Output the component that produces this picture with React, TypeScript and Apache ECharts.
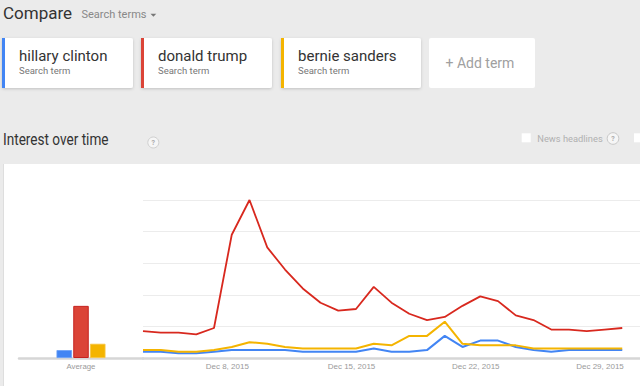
import React, { useEffect, useRef } from "react";
import * as echarts from "echarts";

const categories = [
  "Dec 3, 2015", "Dec 4, 2015", "Dec 5, 2015", "Dec 6, 2015", "Dec 7, 2015",
  "Dec 8, 2015", "Dec 9, 2015", "Dec 10, 2015", "Dec 11, 2015", "Dec 12, 2015",
  "Dec 13, 2015", "Dec 14, 2015", "Dec 15, 2015", "Dec 16, 2015", "Dec 17, 2015",
  "Dec 18, 2015", "Dec 19, 2015", "Dec 20, 2015", "Dec 21, 2015", "Dec 22, 2015",
  "Dec 23, 2015", "Dec 24, 2015", "Dec 25, 2015", "Dec 26, 2015", "Dec 27, 2015",
  "Dec 28, 2015", "Dec 29, 2015", "Dec 30, 2015",
];
const tickLabels = ["Dec 8, 2015", "Dec 15, 2015", "Dec 22, 2015", "Dec 29, 2015"];

const clintonValues = [4, 4, 3, 3, 4, 5, 5, 5, 5, 4, 4, 4, 4, 6, 4, 4, 5, 14, 7, 11, 11, 7, 5, 4, 5, 5, 5, 5];
const trumpValues = [17, 16, 16, 15, 19, 78, 100, 70, 56, 44, 35, 30, 31, 45, 35, 28, 24, 26, 33, 39, 36, 27, 24, 18, 18, 17, 18, 19];
const sandersValues = [5, 5, 4, 4, 5, 7, 10, 9, 7, 6, 6, 6, 6, 9, 8, 14, 14, 23, 9, 8, 8, 8, 6, 6, 6, 6, 6, 6];

const averageCategory = ["Average"];
const clintonAverage = [5];
const trumpAverage = [33];
const sandersAverage = [9];

const terms = ["hillary clinton", "donald trump", "bernie sanders"];

const BLUE = "#4285f4";
const RED = "#db4437";
const YELLOW = "#f4b400";
const GRAY_BG = "#ebebeb";

export default function App() {
  const ref = useRef<HTMLDivElement>(null);

  useEffect(() => {
    if (!ref.current) return;
    const chart = echarts.init(ref.current, undefined, { renderer: "svg" });

    const cardDefs = [
      { x: 2, w: 131, color: BLUE, label: terms[0] },
      { x: 141, w: 131, color: RED, label: terms[1] },
      { x: 281, w: 140, color: YELLOW, label: terms[2] },
    ];

    const cards: any[] = [];
    cardDefs.forEach((c) => {
      cards.push({
        type: "rect",
        shape: { x: c.x, y: 38, width: c.w, height: 50, r: 2 },
        style: { fill: "#fff", shadowBlur: 3, shadowOffsetY: 1, shadowColor: "rgba(0,0,0,0.18)" },
      });
      cards.push({
        type: "rect",
        shape: { x: c.x, y: 38, width: 3, height: 50 },
        style: { fill: c.color },
      });
      cards.push({
        type: "text",
        x: c.x + 17,
        y: 56,
        style: { text: c.label, fill: "#333", font: "15px Roboto", verticalAlign: "middle" },
      });
      cards.push({
        type: "text",
        x: c.x + 17,
        y: 70.7,
        style: { text: "Search term", fill: "#777", font: "9.5px Roboto", verticalAlign: "middle" },
      });
    });

    const option: any = {
      animation: false,
      backgroundColor: "#fff",
      graphic: [
        { type: "rect", z: -10, shape: { x: 0, y: 0, width: 640, height: 164 }, style: { fill: GRAY_BG } },
        { type: "rect", z: -10, shape: { x: 0, y: 164, width: 3, height: 230 }, style: { fill: GRAY_BG } },
        { type: "line", z: -9, shape: { x1: 3.5, y1: 164, x2: 3.5, y2: 386 }, style: { stroke: "#dedede", lineWidth: 1 } },
        { type: "text", x: 3, y: 13.4, style: { text: "Compare", fill: "#333", font: "17px Roboto", verticalAlign: "middle" } },
        { type: "text", x: 81.5, y: 14.5, style: { text: "Search terms", fill: "#888", font: "11px Roboto", verticalAlign: "middle" } },
        { type: "polygon", shape: { points: [[150.5, 13.8], [156.3, 13.8], [153.4, 16.8]] }, style: { fill: "#777" } },
        ...cards,
        {
          type: "rect",
          shape: { x: 429, y: 38, width: 106, height: 50, r: 2 },
          style: { fill: "#fff" },
        },
        { type: "text", x: 445.5, y: 63.3, style: { text: "+ Add term", fill: "#a0a0a0", font: "14px Roboto", verticalAlign: "middle" } },
        { type: "text", x: 3, y: 139.8, scaleX: 0.8, style: { text: "Interest over time", fill: "#333", font: "17px Roboto", verticalAlign: "middle" } },
        { type: "circle", shape: { cx: 153.3, cy: 142.5, r: 5.5 }, style: { fill: "#f6f6f6", stroke: "#cfcfcf", lineWidth: 1 } },
        { type: "text", x: 153.3, y: 142.8, style: { text: "?", fill: "#aaa", font: "bold 7px Roboto", align: "center", verticalAlign: "middle" } },
        { type: "rect", shape: { x: 521.7, y: 133.3, width: 9, height: 9 }, style: { fill: "#fff" } },
        { type: "text", x: 537.3, y: 138.3, style: { text: "News headlines", fill: "#b0b0b0", font: "9.3px Roboto", verticalAlign: "middle" } },
        { type: "circle", shape: { cx: 613, cy: 138.5, r: 5.8 }, style: { fill: "#f6f6f6", stroke: "#c8c8c8", lineWidth: 1 } },
        { type: "text", x: 613, y: 138.8, style: { text: "?", fill: "#aaa", font: "bold 7px Roboto", align: "center", verticalAlign: "middle" } },
        { type: "rect", shape: { x: 634, y: 133.3, width: 9, height: 9 }, style: { fill: "#fff" } },
      ],
      grid: [
        { left: 19, width: 124, top: 200, bottom: 28 },
        { left: 143, right: -4, top: 200, bottom: 28 },
      ],
      xAxis: [
        {
          type: "category",
          gridIndex: 0,
          data: averageCategory,
          axisLine: { lineStyle: { color: "#d6d6d6", width: 2.5 } },
          axisTick: { show: false },
          axisLabel: { color: "#9a9a9a", fontSize: 7.8, fontFamily: "Liberation Sans", margin: 4 },
        },
        {
          type: "category",
          gridIndex: 1,
          data: categories,
          boundaryGap: false,
          max: categories.length,
          axisLine: { lineStyle: { color: "#d6d6d6", width: 2.5 } },
          axisTick: { show: false },
          splitLine: { show: false },
          axisLabel: {
            color: "#9a9a9a",
            fontSize: 8,
            fontFamily: "Liberation Sans",
            margin: 4,
            padding: [0, 9, 0, 0],
            interval: (idx: number) => tickLabels.includes(categories[idx]),
          },
        },
      ],
      yAxis: [
        {
          type: "value",
          gridIndex: 0,
          min: 0,
          max: 100,
          interval: 20,
          axisLine: { show: false },
          axisTick: { show: false },
          axisLabel: { show: false },
          splitLine: { show: false },
        },
        {
          type: "value",
          gridIndex: 1,
          min: 0,
          max: 100,
          interval: 20,
          axisLine: { show: false },
          axisTick: { show: false },
          axisLabel: { show: false },
          splitLine: { lineStyle: { color: "#ececec", width: 1 } },
        },
      ],
      series: [
        {
          name: terms[0],
          type: "bar",
          xAxisIndex: 0,
          yAxisIndex: 0,
          data: clintonAverage,
          barWidth: 15.5,
          barGap: "8%",
          itemStyle: { color: BLUE, borderColor: "#6aa0f7", borderWidth: 0.8 },
        },
        {
          name: terms[1],
          type: "bar",
          xAxisIndex: 0,
          yAxisIndex: 0,
          data: trumpAverage,
          barWidth: 15.5,
          barGap: "8%",
          itemStyle: { color: RED, borderColor: "#c5221f", borderWidth: 1 },
        },
        {
          name: terms[2],
          type: "bar",
          xAxisIndex: 0,
          yAxisIndex: 0,
          data: sandersAverage,
          barWidth: 15.5,
          barGap: "8%",
          itemStyle: { color: YELLOW, borderColor: "#f7c544", borderWidth: 0.8 },
        },
        {
          name: terms[0],
          type: "line",
          xAxisIndex: 1,
          yAxisIndex: 1,
          data: clintonValues,
          symbol: "none",
          lineStyle: { color: BLUE, width: 2 },
          z: 3,
        },
        {
          name: terms[1],
          type: "line",
          xAxisIndex: 1,
          yAxisIndex: 1,
          data: trumpValues,
          symbol: "none",
          lineStyle: { color: "#d8281e", width: 1.8 },
          z: 4,
        },
        {
          name: terms[2],
          type: "line",
          xAxisIndex: 1,
          yAxisIndex: 1,
          data: sandersValues,
          symbol: "none",
          lineStyle: { color: YELLOW, width: 2 },
          z: 5,
        },
      ],
    };

    chart.setOption(option);
    return () => chart.dispose();
  }, []);

  return (
    <div style={{ position: "fixed", left: 0, top: 0, width: 640, height: 386, overflow: "hidden" }}>
      <div ref={ref} style={{ width: 640, height: 386 }} />
    </div>
  );
}
